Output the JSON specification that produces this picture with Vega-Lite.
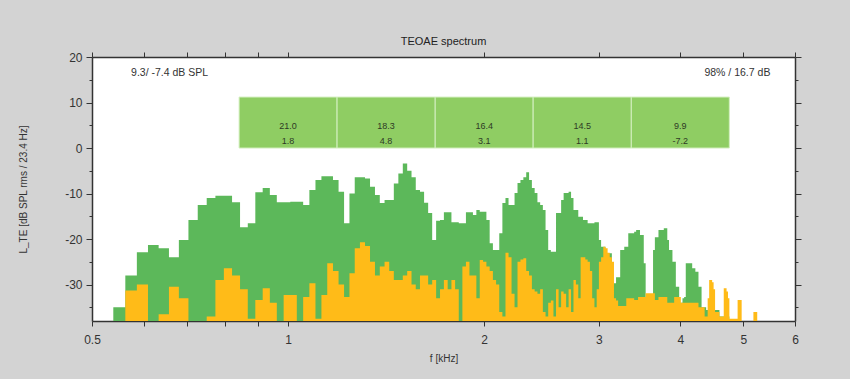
{
  "$schema": "https://vega.github.io/schema/vega-lite/v6.json",
  "width": 703,
  "height": 264,
  "autosize": {"type": "none"},
  "padding": {"left": 92, "top": 57, "right": 55, "bottom": 58},
  "background": "#d3d3d3",
  "config": {"view": {"fill": "white", "stroke": null}, "font": "Liberation Sans"},
  "title": {"text": "TEOAE spectrum", "fontSize": 11, "fontWeight": "normal", "color": "#222", "offset": 4, "anchor": "middle"},
  "datasets": {
    "spec": [
      {"f": 0.5391, "g": -35.0, "o": -38}, {"f": 0.5625, "g": -28.0, "o": -31.3}, {"f": 0.5859, "g": -22.9, "o": -30.0},
      {"f": 0.6094, "g": -21.3, "o": -38}, {"f": 0.6328, "g": -22.0, "o": -36.5}, {"f": 0.6563, "g": -24.0, "o": -30.5},
      {"f": 0.6797, "g": -20.2, "o": -33.0}, {"f": 0.7031, "g": -15.8, "o": -38}, {"f": 0.7266, "g": -12.5, "o": -38},
      {"f": 0.75, "g": -11.0, "o": -37}, {"f": 0.7734, "g": -10.5, "o": -29.0}, {"f": 0.7969, "g": -10.5, "o": -26.4},
      {"f": 0.8203, "g": -11.9, "o": -28.0}, {"f": 0.8438, "g": -17.4, "o": -31.0}, {"f": 0.8672, "g": -16.5, "o": -37.5},
      {"f": 0.8906, "g": -9.7, "o": -33.4}, {"f": 0.9141, "g": -8.8, "o": -30.8}, {"f": 0.9375, "g": -10.3, "o": -34.0},
      {"f": 0.9609, "g": -11.9, "o": -38}, {"f": 0.9844, "g": -11.9, "o": -32.3}, {"f": 1.0078, "g": -11.8, "o": -32.3},
      {"f": 1.0313, "g": -11.8, "o": -38}, {"f": 1.0547, "g": -12.5, "o": -32.7}, {"f": 1.0781, "g": -9.2, "o": -29.7},
      {"f": 1.1016, "g": -7.0, "o": -37.5}, {"f": 1.125, "g": -6.2, "o": -32.3}, {"f": 1.1484, "g": -6.2, "o": -25.3},
      {"f": 1.1719, "g": -7.0, "o": -27.0}, {"f": 1.1953, "g": -9.6, "o": -30.0}, {"f": 1.2188, "g": -16.5, "o": -32.7},
      {"f": 1.2422, "g": -10.0, "o": -27.5}, {"f": 1.2656, "g": -6.4, "o": -22.0}, {"f": 1.2891, "g": -6.4, "o": -20.7},
      {"f": 1.3125, "g": -6.7, "o": -21.5}, {"f": 1.3359, "g": -8.5, "o": -25.0}, {"f": 1.3594, "g": -10.3, "o": -28.0},
      {"f": 1.3828, "g": -12.1, "o": -26.0}, {"f": 1.4063, "g": -11.4, "o": -25.0}, {"f": 1.4297, "g": -11.4, "o": -27.0},
      {"f": 1.4531, "g": -7.8, "o": -29.0}, {"f": 1.4766, "g": -5.6, "o": -29.0}, {"f": 1.5, "g": -3.4, "o": -28.0},
      {"f": 1.5234, "g": -5.0, "o": -27.0}, {"f": 1.5469, "g": -6.4, "o": -30.0}, {"f": 1.5703, "g": -9.2, "o": -31.0},
      {"f": 1.5938, "g": -9.6, "o": -28.0}, {"f": 1.6172, "g": -12.0, "o": -28.0}, {"f": 1.6406, "g": -14.3, "o": -30.0},
      {"f": 1.6641, "g": -20.2, "o": -29.0}, {"f": 1.6875, "g": -16.0, "o": -33.0}, {"f": 1.7109, "g": -15.8, "o": -31.0},
      {"f": 1.7344, "g": -14.1, "o": -29.0}, {"f": 1.7578, "g": -14.1, "o": -31.0}, {"f": 1.7813, "g": -16.3, "o": -29.0},
      {"f": 1.8047, "g": -16.3, "o": -31.0}, {"f": 1.8281, "g": -16.5, "o": -38}, {"f": 1.8516, "g": -16.5, "o": -26.0},
      {"f": 1.875, "g": -14.1, "o": -25.0}, {"f": 1.8984, "g": -14.1, "o": -28.0}, {"f": 1.9219, "g": -14.7, "o": -28.0},
      {"f": 1.9453, "g": -13.6, "o": -33.0}, {"f": 1.9688, "g": -14.0, "o": -24.6}, {"f": 1.9922, "g": -14.0, "o": -25.0},
      {"f": 2.0156, "g": -15.8, "o": -26.0}, {"f": 2.0391, "g": -20.9, "o": -27.0}, {"f": 2.0625, "g": -22.4, "o": -29.0},
      {"f": 2.0859, "g": -22.4, "o": -30.0}, {"f": 2.1094, "g": -18.7, "o": -36.0}, {"f": 2.1328, "g": -12.1, "o": -37.0},
      {"f": 2.1563, "g": -11.0, "o": -23.0}, {"f": 2.1797, "g": -12.5, "o": -24.0}, {"f": 2.2031, "g": -12.5, "o": -32.0},
      {"f": 2.2266, "g": -9.9, "o": -35.0}, {"f": 2.25, "g": -7.7, "o": -25.0}, {"f": 2.2734, "g": -7.0, "o": -24.5},
      {"f": 2.2969, "g": -6.4, "o": -24.2}, {"f": 2.3203, "g": -5.3, "o": -27.0}, {"f": 2.3438, "g": -7.0, "o": -28.0},
      {"f": 2.3672, "g": -8.8, "o": -31.0}, {"f": 2.3906, "g": -9.9, "o": -31.5}, {"f": 2.4141, "g": -11.9, "o": -32.0},
      {"f": 2.4375, "g": -12.5, "o": -31.0}, {"f": 2.4609, "g": -13.6, "o": -36.0}, {"f": 2.4844, "g": -18.0, "o": -37.0},
      {"f": 2.5078, "g": -22.4, "o": -34.0}, {"f": 2.5313, "g": -22.8, "o": -33.5}, {"f": 2.5547, "g": -22.8, "o": -37.0},
      {"f": 2.5781, "g": -14.3, "o": -31.0}, {"f": 2.6016, "g": -14.3, "o": -35.0}, {"f": 2.625, "g": -11.4, "o": -31.5},
      {"f": 2.6484, "g": -9.9, "o": -32.0}, {"f": 2.6719, "g": -9.9, "o": -35.0}, {"f": 2.6953, "g": -9.6, "o": -31.0},
      {"f": 2.7188, "g": -11.0, "o": -36.0}, {"f": 2.7422, "g": -13.6, "o": -29.0}, {"f": 2.7656, "g": -13.6, "o": -30.0},
      {"f": 2.7891, "g": -15.1, "o": -33.0}, {"f": 2.8125, "g": -15.1, "o": -24.0}, {"f": 2.8359, "g": -15.8, "o": -24.0},
      {"f": 2.8594, "g": -15.8, "o": -24.5}, {"f": 2.8828, "g": -16.5, "o": -25.0}, {"f": 2.9063, "g": -16.5, "o": -27.0},
      {"f": 2.9297, "g": -16.5, "o": -33.0}, {"f": 2.9531, "g": -16.3, "o": -35.0}, {"f": 2.9766, "g": -16.3, "o": -31.0},
      {"f": 3.0, "g": -20.2, "o": -25.0}, {"f": 3.0234, "g": -21.7, "o": -24.0}, {"f": 3.0469, "g": -21.7, "o": -21.7},
      {"f": 3.0703, "g": -23.1, "o": -22.0}, {"f": 3.0938, "g": -23.1, "o": -23.0}, {"f": 3.1172, "g": -23.1, "o": -24.0},
      {"f": 3.1406, "g": -29.7, "o": -25.0}, {"f": 3.1641, "g": -29.7, "o": -33.0}, {"f": 3.1875, "g": -28.4, "o": -33.5},
      {"f": 3.2109, "g": -28.4, "o": -34.7}, {"f": 3.2344, "g": -22.4, "o": -34.7}, {"f": 3.2578, "g": -22.4, "o": -34.7},
      {"f": 3.2813, "g": -21.7, "o": -34.7}, {"f": 3.3047, "g": -21.7, "o": -33.0}, {"f": 3.3281, "g": -18.7, "o": -33.0},
      {"f": 3.3516, "g": -18.7, "o": -33.0}, {"f": 3.375, "g": -18.7, "o": -33.0}, {"f": 3.3984, "g": -18.4, "o": -33.4},
      {"f": 3.4219, "g": -18.0, "o": -33.4}, {"f": 3.4453, "g": -18.0, "o": -32.7}, {"f": 3.4688, "g": -19.1, "o": -32.7},
      {"f": 3.4922, "g": -19.1, "o": -32.7}, {"f": 3.5156, "g": -25.3, "o": -32.7}, {"f": 3.5391, "g": -32.7, "o": -31.9},
      {"f": 3.5625, "g": -32.7, "o": -31.9}, {"f": 3.5859, "g": -33.4, "o": -31.9}, {"f": 3.6094, "g": -33.4, "o": -31.9},
      {"f": 3.6328, "g": -22.4, "o": -31.9}, {"f": 3.6563, "g": -19.6, "o": -33.4}, {"f": 3.6797, "g": -19.6, "o": -33.4},
      {"f": 3.7031, "g": -18.0, "o": -32.7}, {"f": 3.7266, "g": -18.0, "o": -32.7}, {"f": 3.75, "g": -18.0, "o": -32.7},
      {"f": 3.7734, "g": -17.6, "o": -32.7}, {"f": 3.7969, "g": -17.6, "o": -32.7}, {"f": 3.8203, "g": -20.2, "o": -34.0},
      {"f": 3.8438, "g": -22.4, "o": -34.0}, {"f": 3.8672, "g": -22.4, "o": -34.0}, {"f": 3.8906, "g": -25.0, "o": -34.0},
      {"f": 3.9141, "g": -25.0, "o": -32.7}, {"f": 3.9375, "g": -30.5, "o": -32.7}, {"f": 3.9609, "g": -30.5, "o": -32.7},
      {"f": 3.9844, "g": -34.0, "o": -32.7}, {"f": 4.0078, "g": -34.0, "o": -34.0}, {"f": 4.0313, "g": -33.0, "o": -34.0},
      {"f": 4.0547, "g": -32.7, "o": -34.0}, {"f": 4.0781, "g": -25.3, "o": -34.0}, {"f": 4.1016, "g": -25.3, "o": -34.0},
      {"f": 4.125, "g": -25.3, "o": -34.0}, {"f": 4.1484, "g": -25.3, "o": -34.0}, {"f": 4.1719, "g": -26.4, "o": -34.0},
      {"f": 4.1953, "g": -26.4, "o": -34.0}, {"f": 4.2188, "g": -27.2, "o": -34.0}, {"f": 4.2422, "g": -27.2, "o": -34.0},
      {"f": 4.2656, "g": -30.5, "o": -35.0}, {"f": 4.2891, "g": -30.5, "o": -35.0}, {"f": 4.3125, "g": -35.0, "o": -35.0},
      {"f": 4.3359, "g": -35.0, "o": -35.0}, {"f": 4.3594, "g": -35.0, "o": -37.0}, {"f": 4.3828, "g": -35.6, "o": -37.0},
      {"f": 4.4063, "g": -35.6, "o": -33.0}, {"f": 4.4297, "g": -35.6, "o": -29.0}, {"f": 4.4531, "g": -35.6, "o": -29.0},
      {"f": 4.4766, "g": -35.6, "o": -29.5}, {"f": 4.5, "g": -35.6, "o": -31.0}, {"f": 4.5234, "g": -35.6, "o": -36.0},
      {"f": 4.5469, "g": -35.6, "o": -36.0}, {"f": 4.5703, "g": -35.6, "o": -36.0}, {"f": 4.5938, "g": -37.0, "o": -37.0},
      {"f": 4.6172, "g": -37.0, "o": -37.0}, {"f": 4.6406, "g": -37.0, "o": -37.0}, {"f": 4.6641, "g": -37.0, "o": -30.8},
      {"f": 4.6875, "g": -37.0, "o": -30.8}, {"f": 4.7109, "g": -37.0, "o": -31.5}, {"f": 4.7344, "g": -37.0, "o": -33.0},
      {"f": 4.7578, "g": -38, "o": -37.5}, {"f": 4.7813, "g": -38, "o": -37.5}, {"f": 4.8047, "g": -38, "o": -37.5},
      {"f": 4.8281, "g": -38, "o": -37.5}, {"f": 4.8516, "g": -38, "o": -37.5}, {"f": 4.875, "g": -38, "o": -37.5},
      {"f": 4.8984, "g": -38, "o": -33.4}, {"f": 4.9219, "g": -38, "o": -33.4}, {"f": 4.9453, "g": -38, "o": -33.4},
      {"f": 4.9688, "g": -38, "o": -38}, {"f": 5.1563, "g": -38, "o": -38}, {"f": 5.1797, "g": -38, "o": -36},
      {"f": 5.2031, "g": -38, "o": -36}, {"f": 5.2266, "g": -38, "o": -36}, {"f": 5.25, "g": -38, "o": -38}
    ],
    "bands": [
      {"lo": 0.841, "hi": 1.189, "fc": 1.0, "a": "21.0", "b": "1.8"},
      {"lo": 1.189, "hi": 1.682, "fc": 1.414, "a": "18.3", "b": "4.8"},
      {"lo": 1.682, "hi": 2.378, "fc": 2.0, "a": "16.4", "b": "3.1"},
      {"lo": 2.378, "hi": 3.364, "fc": 2.828, "a": "14.5", "b": "1.1"},
      {"lo": 3.364, "hi": 4.757, "fc": 4.0, "a": "9.9", "b": "-7.2"}
    ]
  },
  "resolve": {"scale": {"x": "shared", "y": "shared"}, "axis": {"x": "independent", "y": "independent"}},
  "layer": [
    {
      "data": {"name": "spec"},
      "mark": {"type": "area", "interpolate": "step-after", "color": "#5cb85a"},
      "encoding": {
        "x": {"field": "f", "type": "quantitative",
          "scale": {"type": "log", "domain": [0.5, 6], "nice": false},
          "axis": {"orient": "bottom", "values": [0.5, 0.6, 0.7, 0.8, 0.9, 1, 2, 3, 4, 5, 6],
            "labelExpr": "indexof([0.5,1,2,3,4,5,6], datum.value) >= 0 ? '' + datum.value : ''",
            "title": "f [kHz]", "grid": false, "domainColor": "#333", "domainWidth": 1.5,
            "tickColor": "#333", "tickSize": 5, "labelPadding": 8, "labelFontSize": 12, "labelColor": "#333",
            "labelFlush": false, "titleFontSize": 10, "titleFontWeight": "normal", "titleColor": "#333", "titlePadding": 8}},
        "y": {"field": "g", "type": "quantitative",
          "scale": {"domain": [-38, 20], "nice": false, "zero": false},
          "axis": {"orient": "left", "values": [20, 15, 10, 5, 0, -5, -10, -15, -20, -25, -30, -35],
            "labelExpr": "datum.value % 10 == 0 ? '' + datum.value : ''",
            "title": "L_TE [dB SPL rms / 23.4 Hz]", "grid": false, "domainColor": "#333", "domainWidth": 1.5,
            "tickColor": "#333", "tickSize": {"condition": {"test": "datum.value % 10 == 0", "value": 6}, "value": 3},
            "labelPadding": 4, "labelFontSize": 12, "labelColor": "#333", "labelFlush": false,
            "titleFontSize": 10, "titleFontWeight": "normal", "titleColor": "#333", "titlePadding": 36}},
        "y2": {"datum": -38}
      }
    },
    {
      "data": {"name": "spec"},
      "mark": {"type": "area", "interpolate": "step-after", "color": "#ffbb18"},
      "encoding": {
        "x": {"field": "f", "type": "quantitative",
          "scale": {"type": "log", "domain": [0.5, 6], "nice": false},
          "axis": {"orient": "top", "values": [0.5, 0.6, 0.7, 0.8, 0.9, 1, 2, 3, 4, 5, 6], "labels": false,
            "title": null, "grid": false, "domainColor": "#333", "domainWidth": 1.5, "tickColor": "#333", "tickSize": 5}},
        "y": {"field": "o", "type": "quantitative",
          "scale": {"domain": [-38, 20], "nice": false, "zero": false},
          "axis": {"orient": "right", "values": [20, 15, 10, 5, 0, -5, -10, -15, -20, -25, -30, -35], "labels": false,
            "title": null, "grid": false, "domainColor": "#333", "domainWidth": 1.5, "tickColor": "#333",
            "tickSize": {"condition": {"test": "datum.value % 10 == 0", "value": 6}, "value": 3}}},
        "y2": {"datum": -38}
      }
    },
    {
      "data": {"name": "bands"},
      "mark": {"type": "rect", "color": "#8fcd63", "stroke": "#d4efc0", "strokeWidth": 1},
      "encoding": {
        "x": {"field": "lo", "type": "quantitative", "axis": null},
        "x2": {"field": "hi"},
        "y": {"datum": 0, "axis": null},
        "y2": {"datum": 11.2}
      }
    },
    {
      "data": {"name": "bands"},
      "mark": {"type": "text", "fontSize": 9, "color": "#2e3a25"},
      "encoding": {
        "x": {"field": "fc", "type": "quantitative", "axis": null},
        "y": {"datum": 4.8, "axis": null},
        "text": {"field": "a"}
      }
    },
    {
      "data": {"name": "bands"},
      "mark": {"type": "text", "fontSize": 9, "color": "#2e3a25"},
      "encoding": {
        "x": {"field": "fc", "type": "quantitative", "axis": null},
        "y": {"datum": 1.5, "axis": null},
        "text": {"field": "b"}
      }
    },
    {
      "data": {"values": [{"t": "9.3/ -7.4 dB SPL"}]},
      "mark": {"type": "text", "align": "left", "fontSize": 10.5, "color": "#333"},
      "encoding": {
        "x": {"datum": 0.574, "type": "quantitative", "axis": null},
        "y": {"datum": 16.5, "axis": null},
        "text": {"field": "t"}
      }
    },
    {
      "data": {"values": [{"t": "98% /  16.7 dB"}]},
      "mark": {"type": "text", "align": "right", "fontSize": 10.5, "color": "#333"},
      "encoding": {
        "x": {"datum": 5.5, "type": "quantitative", "axis": null},
        "y": {"datum": 16.5, "axis": null},
        "text": {"field": "t"}
      }
    }
  ]
}
